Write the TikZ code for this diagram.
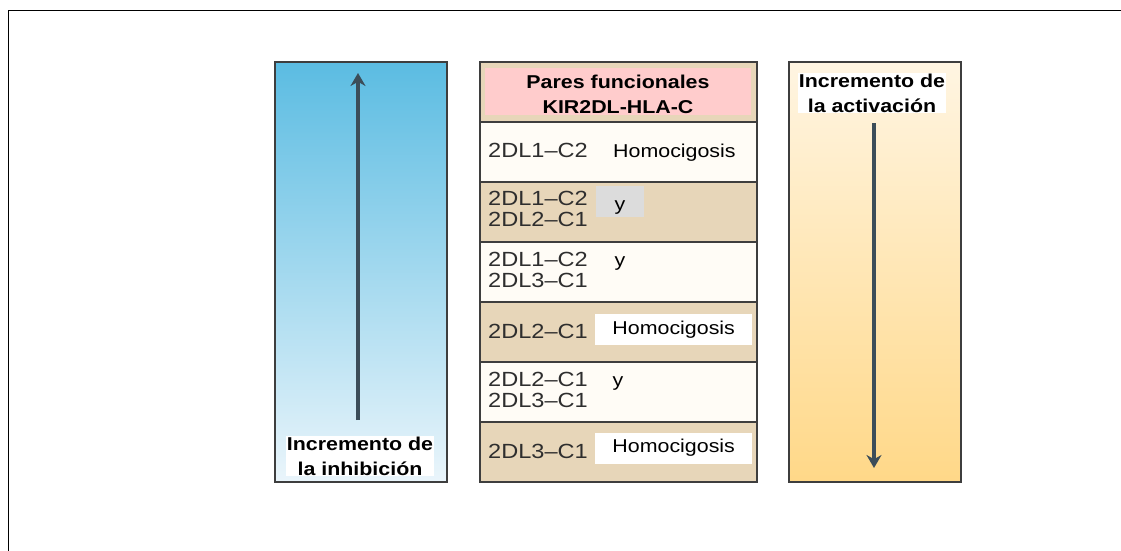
\documentclass[tikz,border=0pt]{standalone}
\usepackage{fontspec}
\setmainfont{Liberation Sans}[FakeStretch=1.15]
\usetikzlibrary{arrows.meta,positioning}

\definecolor{bluetop}{HTML}{5BBCE2}
\definecolor{bluebot}{HTML}{EAF5FB}
\definecolor{sandtop}{HTML}{FFF5E2}
\definecolor{sandbot}{HTML}{FFD888}
\definecolor{tanrow}{HTML}{E7D6B9}
\definecolor{paperrow}{HTML}{FFFCF6}
\definecolor{pinkhead}{HTML}{FFCCCC}
\definecolor{ygray}{HTML}{DCDCDC}
\definecolor{edgegray}{HTML}{3E3E3E}
\definecolor{arrowslate}{HTML}{3C4D59}
\definecolor{codegray}{HTML}{2E2E2E}

\begin{document}
\begin{tikzpicture}[x=1pt,y=-1pt,
    panel/.style={draw=edgegray,line width=1.5pt,outer sep=0pt,inner sep=0pt,
                  minimum width=172pt,minimum height=420pt,anchor=north west},
    row/.style={draw=edgegray,line width=1.5pt,outer sep=0pt,inner sep=0pt,
                minimum width=277pt,minimum height=60pt},
    pair/.style={font=\fontsize{20.5}{21.5}\selectfont,text=codegray,align=left,
                 anchor=west,inner sep=0pt},
    tag/.style={font=\fontsize{18.6}{22}\selectfont,inner sep=0pt},
    homo/.style={tag,fill=white,minimum width=157pt,minimum height=31pt,anchor=west},
    lbl/.style={font=\bfseries\fontsize{18.6}{25}\selectfont,align=center,
                fill=white,inner sep=1pt},
    trend/.style={line width=3.5pt,draw=arrowslate,-{Stealth[length=13pt,width=15pt]}}]

  \useasboundingbox (0,0) rectangle (1121,551);

  % frame
  \draw[line width=1pt] (1121,11) -- (8,11) -- (8,551);

  % side panels
  \node[panel,top color=bluetop,bottom color=bluebot] (inh) at (275,62) {};
  \node[panel,top color=sandtop,bottom color=sandbot] (act) at (789,62) {};

  % middle column
  \node[row,fill=tanrow,anchor=north west] (head) at (480,62) {};
  \node[row,fill=paperrow] (r1) [below=0pt of head] {};
  \node[row,fill=tanrow]   (r2) [below=0pt of r1] {};
  \node[row,fill=paperrow] (r3) [below=0pt of r2] {};
  \node[row,fill=tanrow]   (r4) [below=0pt of r3] {};
  \node[row,fill=paperrow] (r5) [below=0pt of r4] {};
  \node[row,fill=tanrow]   (r6) [below=0pt of r5] {};

  \node[fill=pinkhead,minimum width=266pt,minimum height=47pt,inner sep=0pt] (pink) at (618,91.5) {};
  \node[lbl,fill=none] (headtxt) at (618,94) {Pares funcionales\\KIR2DL-HLA-C};

  % pairs
  \node[pair] (p1) at (488,150) {2DL1–C2};
  \node[pair] (p2) at (488,209) {2DL1–C2\\2DL2–C1};
  \node[pair] (p3) at (488,270) {2DL1–C2\\2DL3–C1};
  \node[pair] (p4) at (488,331) {2DL2–C1};
  \node[pair] (p5) at (488,390) {2DL2–C1\\2DL3–C1};
  \node[pair] (p6) at (488,451) {2DL3–C1};

  \node[tag,anchor=west] (h1) at (613,153) {Homocigosis};
  \node[fill=ygray,minimum width=48pt,minimum height=31pt,inner sep=0pt] (ybox) at (620,201.5) {};
  \node[tag] (y2) at (620,208) {y};
  \node[tag] (y3) at (620,264) {y};
  \node[homo] (h4) at (595,329.5) {Homocigosis};
  \node[tag] (y5) at (618,384) {y};
  \node[homo] (h6) at (595,448) {Homocigosis};

  % trend labels and arrows
  \node[lbl] (inhlbl) at (360,456) {Incremento de\\la inhibición};
  \node[lbl] (actlbl) at (872,93) {Incremento de\\la activación};

  \coordinate (inhfoot) at (358,420);
  \coordinate (inhtip)  at (358,73);
  \coordinate (acthead) at (874,123);
  \coordinate (acttip)  at (874,468);
  \draw[trend] (inhfoot) -- (inhtip);
  \draw[trend] (acthead) -- (acttip);

\end{tikzpicture}
\end{document}
